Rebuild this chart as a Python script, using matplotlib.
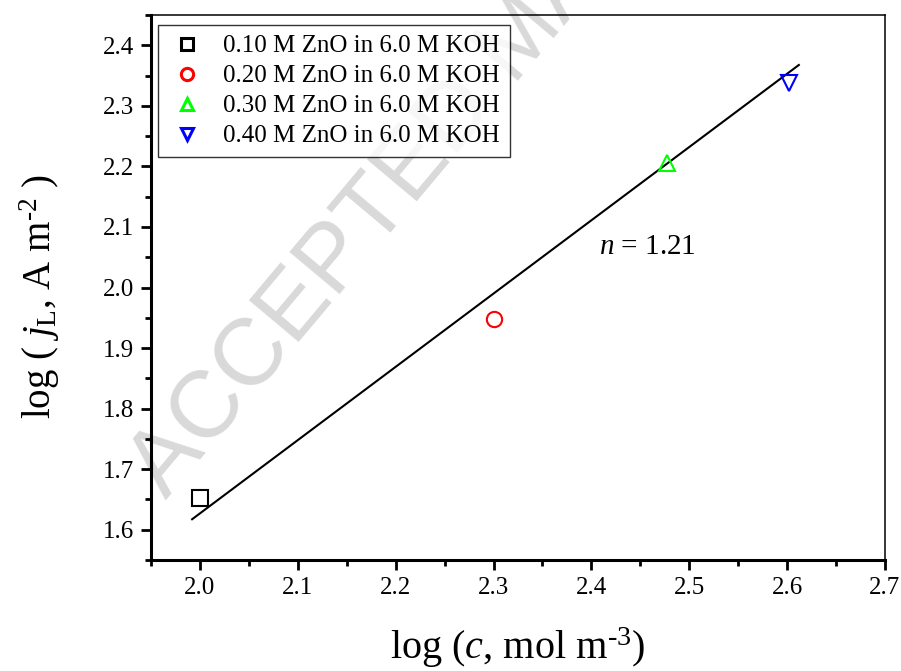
"""Limiting current density vs ZnO concentration (log-log) with fitted line."""

import matplotlib

matplotlib.use("Agg")
import matplotlib.pyplot as plt
import numpy as np
from matplotlib.ticker import MultipleLocator

plt.rcParams["font.family"] = ["Liberation Serif", "DejaVu Serif"]
plt.rcParams["mathtext.fontset"] = "custom"
plt.rcParams["mathtext.rm"] = "Liberation Serif"
plt.rcParams["mathtext.it"] = "Liberation Serif:italic"

# ---------------------------------------------------------------------------
# Data
# ---------------------------------------------------------------------------
labels = [
    "0.10 M ZnO in 6.0 M KOH",
    "0.20 M ZnO in 6.0 M KOH",
    "0.30 M ZnO in 6.0 M KOH",
    "0.40 M ZnO in 6.0 M KOH",
]
log_c = [2.000, 2.301, 2.477, 2.602]
log_jl = [1.653, 1.948, 2.205, 2.338]
markers = ["s", "o", "^", "v"]
colors = ["black", "#ff0000", "#00ff00", "#0000ff"]

fit_slope = 1.21
fit_intercept = -0.793
fit_x_range = [1.992, 2.612]

# ---------------------------------------------------------------------------
# Plot
# ---------------------------------------------------------------------------
fig = plt.figure(figsize=(9.01, 6.71), dpi=100)
ax = fig.add_axes([0.1676, 0.1654, 0.8146, 0.8122])
ax.set_facecolor("none")

# faint watermark behind everything
fig.text(0.185, 0.255, "ACCEPTED MANUSCRIPT", family="Liberation Sans",
         fontsize=68, color="#d9d9d9", rotation=50, rotation_mode="anchor",
         ha="left", va="baseline", zorder=-10)

fx = np.array(fit_x_range)
ax.plot(fx, fit_slope * fx + fit_intercept, color="black", lw=1.5, zorder=2)

for x, y, m, c, lab in zip(log_c, log_jl, markers, colors, labels):
    ax.plot(x, y, linestyle="none", marker=m, markersize=11,
            markerfacecolor="none", markeredgecolor=c, markeredgewidth=1.5,
            label=lab, zorder=3)

ax.text(2.408, 2.067, r"$n$ = 1.21", fontsize=21, ha="left", va="center")

ax.set_xlim(1.95, 2.7)
ax.set_ylim(1.55, 2.45)
ax.xaxis.set_major_locator(MultipleLocator(0.1))
ax.xaxis.set_minor_locator(MultipleLocator(0.05))
ax.yaxis.set_major_locator(MultipleLocator(0.1))
ax.yaxis.set_minor_locator(MultipleLocator(0.05))
ax.xaxis.set_major_formatter(lambda v, p: f"{v:.1f}")
ax.yaxis.set_major_formatter(lambda v, p: f"{v:.1f}")

ax.tick_params(which="both", direction="out", top=False, right=False,
               width=2.0, labelsize=18)
ax.tick_params(which="major", length=7.5, pad=5)
ax.tick_params(which="minor", length=4)
for side in ("left", "bottom"):
    ax.spines[side].set_linewidth(2.2)
for side in ("top", "right"):
    ax.spines[side].set_linewidth(1.1)

ax.set_xlabel(r"log ($c$, mol m$^{\text{-3}}$)", fontsize=29)
ax.set_ylabel(r"log ( $j_{\mathrm{L}}$, A m$^{\text{-2}}$ )", fontsize=28)
ax.xaxis.set_label_coords(0.5, -0.12)
ax.yaxis.set_label_coords(-0.121, 0.483)

leg = ax.legend(loc="upper left", bbox_to_anchor=(0.0095, 0.982),
                fontsize=18, frameon=True, fancybox=False, markerscale=0.8,
                handlelength=1.5, handletextpad=0.7, labelspacing=0.3,
                borderpad=0.4, borderaxespad=0)
leg.get_frame().set_edgecolor("black")
leg.get_frame().set_linewidth(1.0)
for h in leg.legend_handles:
    h.set_markeredgewidth(2.2)

fig.savefig("out.png", dpi=100)
